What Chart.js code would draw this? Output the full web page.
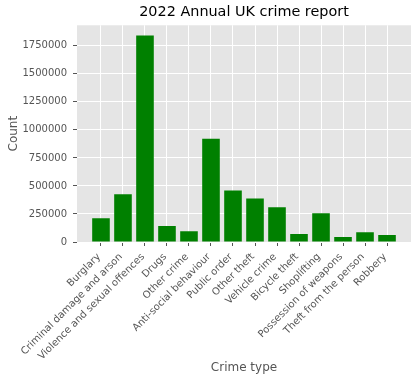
<!DOCTYPE html>
<html>
<head>
<meta charset="utf-8">
<script src="https://cdn.jsdelivr.net/npm/chart.js@4/dist/chart.umd.min.js"></script>
<style>
  html, body { margin: 0; padding: 0; background: #ffffff; }
  #wrap { width: 417px; height: 383px; }
</style>
</head>
<body>
<div id="wrap"><canvas id="chart" width="417" height="383"></canvas></div>
<script>
// Recorded crimes by type, 2022
const categories = [
  'Burglary', 'Criminal damage and arson', 'Violence and sexual offences', 'Drugs',
  'Other crime', 'Anti-social behaviour', 'Public order', 'Other theft',
  'Vehicle crime', 'Bicycle theft', 'Shoplifting', 'Possession of weapons',
  'Theft from the person', 'Robbery'
];
const counts = [
  212000, 425000, 1841000, 142000,
  97000, 920000, 460000, 389000,
  310000, 71000, 257000, 44000,
  88000, 62000
];
const countTicks = [0, 250000, 500000, 750000, 1000000, 1250000, 1500000, 1750000];

const FONT = 'DejaVu Sans';
const GREY = '#555555';

// Grey panel behind the grid and bars
const panelFill = {
  id: 'panelFill',
  beforeDraw(chart) {
    const { ctx, chartArea: a, width, height } = chart;
    ctx.save();
    ctx.fillStyle = '#ffffff';
    ctx.fillRect(0, 0, width, height);
    ctx.fillStyle = '#E5E5E5';
    ctx.fillRect(a.left, a.top, a.right - a.left, a.bottom - a.top);
    ctx.restore();
  }
};

// Pad the value range by 5% on the category axis and above the tallest bar
const n = categories.length;
const span = (n - 1) + 0.8;
const xMin = -0.4 - 0.05 * span;
const xMax = (n - 1) + 0.4 + 0.05 * span;
const yMax = Math.max(...counts) * 1.05;

new Chart(document.getElementById('chart'), {
  type: 'bar',
  data: {
    datasets: [{
      data: counts.map((v, i) => ({ x: i, y: v })),
      backgroundColor: '#008000',
      borderWidth: 0,
      barPercentage: 0.8,
      categoryPercentage: 1.0
    }]
  },
  plugins: [panelFill],
  options: {
    responsive: false,
    animation: false,
    events: [],
    layout: { padding: { left: 0, right: 6, top: 0, bottom: 0 } },
    plugins: {
      legend: { display: false },
      tooltip: { enabled: false },
      title: {
        display: true,
        fullSize: false,
        text: '2022 Annual UK crime report',
        color: '#000000',
        font: { family: FONT, size: 14.4, weight: 'normal' },
        padding: { top: 4, bottom: 4 }
      }
    },
    scales: {
      x: {
        type: 'linear',
        offset: false,
        min: xMin,
        max: xMax,
        afterBuildTicks: s => { s.ticks = categories.map((_, i) => ({ value: i })); },
        afterFit: s => { s.height = 141; },
        border: { display: false },
        grid: { offset: false, color: '#ffffff', lineWidth: 1, tickColor: GREY, tickLength: 4 },
        ticks: {
          autoSkip: false,
          minRotation: 45,
          maxRotation: 45,
          padding: 5,
          labelOffset: -2,
          color: GREY,
          font: { family: FONT, size: 10 },
          callback: v => categories[v]
        },
        title: {
          display: true,
          text: 'Crime type',
          color: GREY,
          font: { family: FONT, size: 12 },
          padding: { top: 4, bottom: 8 }
        }
      },
      y: {
        min: 0,
        max: yMax,
        afterBuildTicks: s => { s.ticks = countTicks.map(v => ({ value: v })); },
        afterFit: s => { s.width = 77; },
        border: { display: false },
        grid: { color: '#ffffff', lineWidth: 1, tickColor: GREY, tickLength: 4 },
        ticks: {
          padding: 6,
          color: GREY,
          font: { family: FONT, size: 10 },
          callback: v => String(v)
        },
        title: {
          display: true,
          text: 'Count',
          color: GREY,
          font: { family: FONT, size: 12 },
          padding: { top: 7, bottom: 0 }
        }
      }
    }
  }
});
</script>
</body>
</html>
